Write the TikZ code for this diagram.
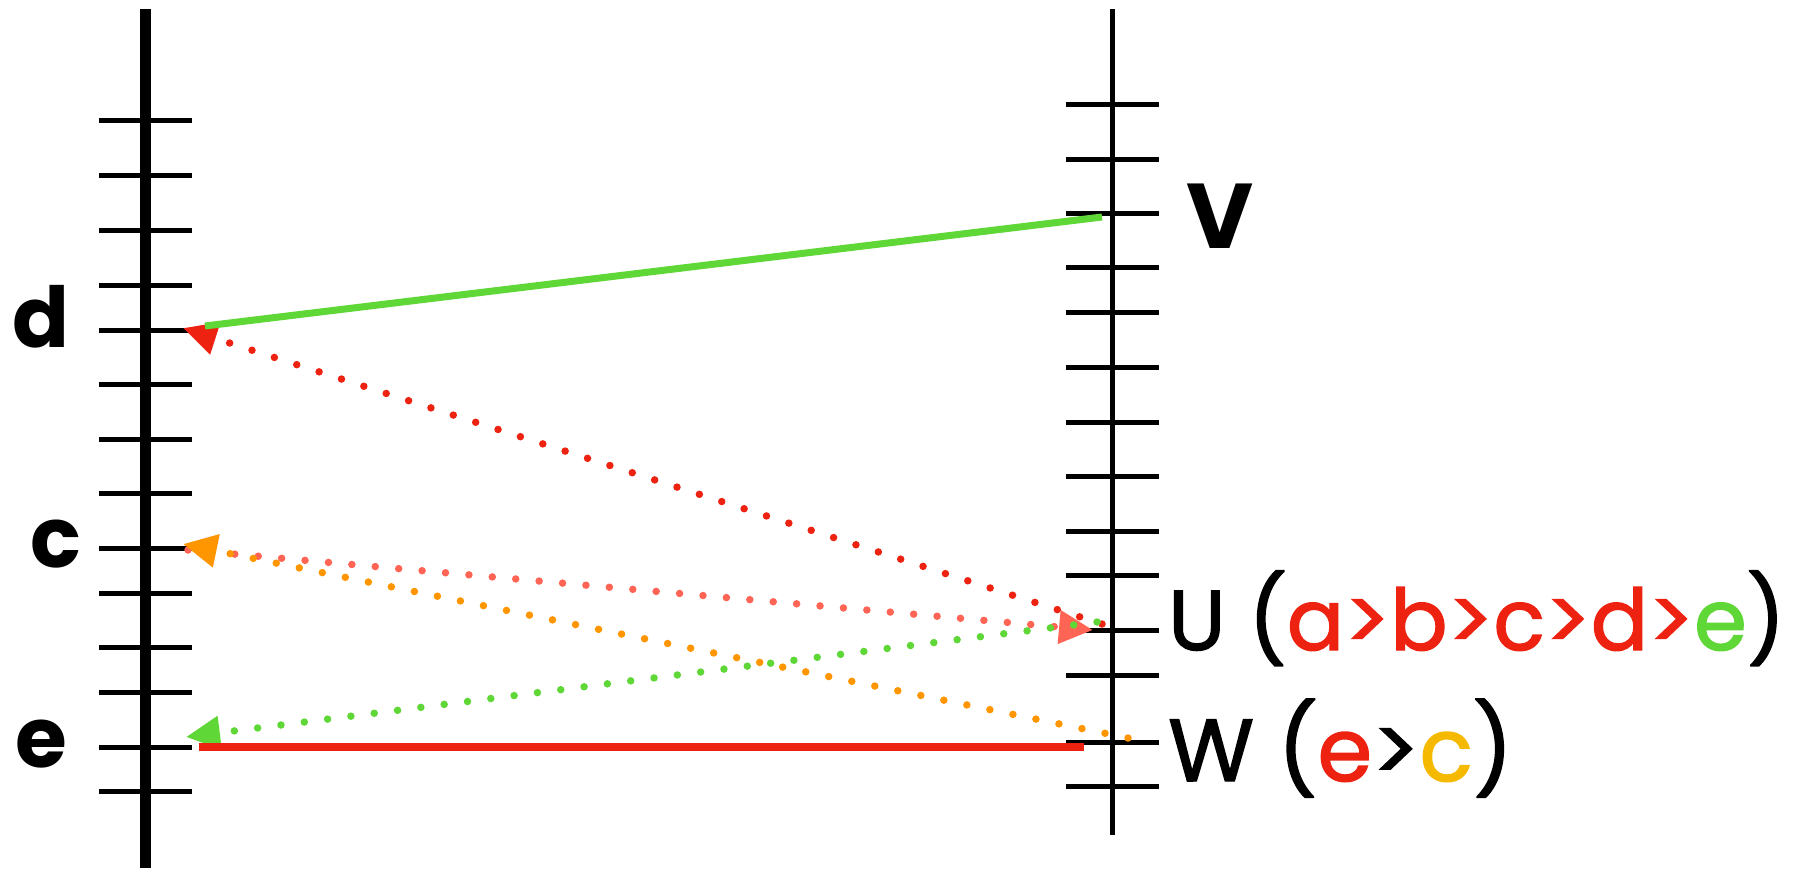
\documentclass[tikz,border=0pt]{standalone}
\usepackage{fontspec}
\setmainfont{Poppins}
\newfontfamily\medfont[FakeBold=1.6]{Poppins}
\usetikzlibrary{arrows.meta}
\definecolor{cred}{RGB}{238,34,17}
\definecolor{cgreen}{RGB}{95,215,55}
\definecolor{csalmon}{RGB}{255,100,85}
\definecolor{corange}{RGB}{255,150,0}
\definecolor{cyellow}{RGB}{245,185,0}
\tikzset{
  tickmark/.style={line width=5pt},
  dotline/.style={line width=7.5pt, line cap=round, dash pattern=on 0pt off 23.5pt},
  tri/.style={-{Triangle[length=34pt,width=32pt]}},
  lbl/.style={inner sep=0pt, font=\fontsize{84}{90}\selectfont\bfseries},
  biglbl/.style={inner sep=0pt, font=\fontsize{85}{96}\medfont},
}
\begin{document}
\begin{tikzpicture}[x=1pt,y=-1pt]
\useasboundingbox (0,0) rectangle (1799,868);
\fill[white] (0,0) rectangle (1799,868);
% axes
\draw[line width=11pt] (145.5,9) -- (145.5,868);
\draw[line width=5.5pt] (1112.5,9) -- (1112.5,835);
\foreach \y in {120,175,230,285,330,384,439,493,548,593,647,692,747,791}
  \draw[tickmark] (99,\y) -- (192,\y);
\foreach \y in {104,159,213,267,312,367,422,476,531,575,630,675,742,786}
  \draw[tickmark] (1066,\y) -- (1159,\y);
% labels
\node[lbl, anchor=base] (ld) at (41,347) {d};
\node[lbl, anchor=base] (lc) at (56,567) {c};
\node[lbl, anchor=base] (le) at (41,767) {e};
\node[lbl, anchor=base, font=\fontsize{92}{96}\selectfont\bfseries] (lv) at (1220,248) {V};
\node[biglbl, anchor=base west] (lu) at (1168,650) {U (\textcolor{cred}{a>b>c>d>}\textcolor{cgreen}{e})};
\node[biglbl, anchor=base west, font=\fontsize{88}{96}\medfont] (lw) at (1168,781) {W (\textcolor{cred}{e}>\textcolor{cyellow}{c})};
% connector endpoints
\coordinate (dtip) at (183,328);
\coordinate (ctip) at (183,544);
\coordinate (etip) at (186,737);
\coordinate (cstart) at (188,550);
\coordinate (utip) at (1093,630);
\coordinate (ured) at (1102,624);
\coordinate (ugreen) at (1097,622);
\coordinate (worange) at (1128,738);
\coordinate (dgs) at (205,326);
\coordinate (vge) at (1102,217);
\coordinate (ers) at (199,747);
\coordinate (wre) at (1084,747);
% dotted connectors
\draw[dotline, csalmon, tri] (cstart) -- (utip);
\draw[dotline, corange, tri] (worange) -- (ctip);
\draw[dotline, cred, tri] (ured) -- (dtip);
\draw[dotline, cgreen, tri] (ugreen) -- (etip);
% solid connectors
\draw[line width=7pt, cgreen] (dgs) -- (vge);
\draw[line width=8pt, cred] (ers) -- (wre);
\end{tikzpicture}
\end{document}
